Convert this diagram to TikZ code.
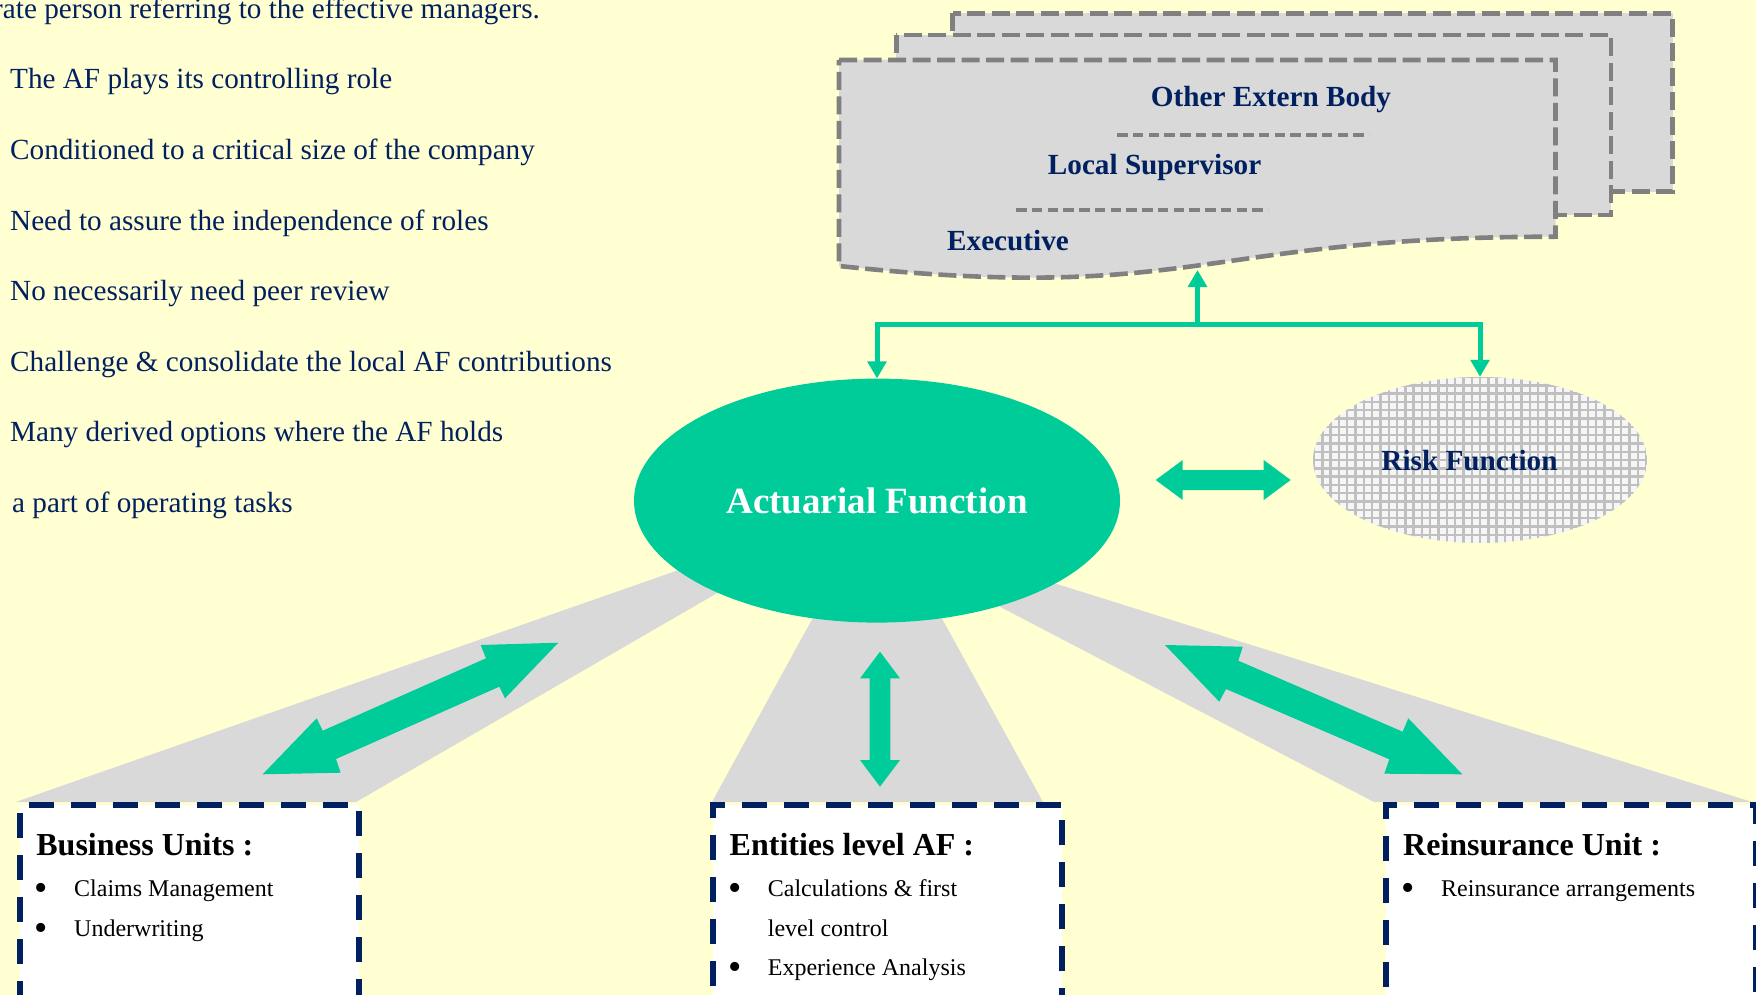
\documentclass[tikz,border=0pt]{standalone}
\usepackage{fontspec}
\setmainfont{Liberation Serif}
\usetikzlibrary{shapes.geometric,arrows.meta}

\definecolor{paper}{RGB}{255,255,209}
\definecolor{afgreen}{RGB}{0,204,153}
\definecolor{navy}{RGB}{0,32,96}
\definecolor{bandgray}{RGB}{217,217,217}
\definecolor{docfill}{RGB}{217,217,217}
\definecolor{docedge}{RGB}{128,128,128}
\definecolor{gridline}{RGB}{192,192,192}
\definecolor{gridback}{RGB}{246,246,246}

\begin{document}
\begin{tikzpicture}[x=1pt,y=-1pt,
  >={Triangle[width=18.5pt,length=17pt]},
  listtext/.style={anchor=base west, inner sep=0pt, text=navy, font=\fontsize{29.2}{35}\selectfont},
  doctext/.style={anchor=base, inner sep=0pt, text=navy, font=\fontsize{29.2}{35}\selectfont\bfseries},
  docsheet/.style={fill=docfill, draw=docedge, line width=4.6pt, dash pattern=on 18pt off 6.5pt},
  separator/.style={draw=docedge, line width=4.2pt, dash pattern=on 10.5pt off 5.25pt},
  band/.style={fill=bandgray},
  blockarrow/.style={fill=afgreen},
  conn/.style={draw=afgreen, line width=5pt},
  unitbox/.style={draw=navy, fill=white, line width=6pt, dash pattern=on 25pt off 17pt, anchor=north west, inner sep=0pt},
  boxhead/.style={anchor=base west, inner sep=0pt, font=\fontsize{32}{38}\selectfont\bfseries},
  boxitem/.style={anchor=base west, inner sep=0pt, font=\fontsize{24}{29}\selectfont},
  boxbullet/.style={anchor=base west, inner sep=0pt, yshift=-4pt, font=\fontsize{38}{40}\selectfont}
]
\useasboundingbox (0,0) rectangle (1756,995);
\clip (0,0) rectangle (1756,995);
\fill[paper] (0,0) rectangle (1756,995);

% bullet list on the left
\node[listtext] (l0) at (-7,19) {rate person referring to the effective managers.};
\node[listtext] (l1) at (10,89) {The AF plays its controlling role};
\node[listtext] (l2) at (10,159.5) {Conditioned to a critical size of the company};
\node[listtext] (l3) at (10,230) {Need to assure the independence of roles};
\node[listtext] (l4) at (10,300.5) {No necessarily need peer review};
\node[listtext] (l5) at (10,371) {Challenge \& consolidate the local AF contributions};
\node[listtext] (l6) at (10,441) {Many derived options where the AF holds};
\node[listtext] (l7) at (12,512) {a part of operating tasks};

% grey beams from the actuarial function down to the units
\fill[band] (877,500.6) -- (15.7,802) -- (356,802) -- cycle;
\fill[band] (877,500.6) -- (712,802) -- (1043,802) -- cycle;
\fill[band] (805,505) -- (1752,802) -- (1374,802) -- cycle;

% central actuarial function
\node[ellipse, fill=afgreen, minimum width=486pt, minimum height=244pt, inner sep=0pt,
      text=white, font=\fontsize{37}{44}\selectfont\bfseries] (af) at (877,500.6) {Actuarial Function};

% risk function with grid fill
\node[ellipse, minimum width=334pt, minimum height=166pt, inner sep=0pt, fill=gridback,
      path picture={\draw[gridline, line width=2.4pt] (path picture bounding box.south west) grid[step=8.3pt] (path picture bounding box.north east);}] (risk) at (1480,460) {};
\node[doctext] (risklabel) at (1469.5,470) {Risk Function};

% units
\node[unitbox, minimum width=339.3pt, minimum height=195.5pt] (bu) at (16.7,801.7) {};
\node[unitbox, minimum width=349pt, minimum height=195.5pt] (el) at (710,801.7) {};
\node[unitbox, minimum width=369.7pt, minimum height=195.5pt] (ru) at (1383.3,801.7) {};

\node[boxhead] (buhead) at (36.2,855) {Business Units :};
\node[boxbullet] (bubulla) at (34.5,896.7) {\textbullet};
\node[boxitem] (buitema) at (74,896.7) {Claims Management};
\node[boxbullet] (bubullb) at (34.5,936.7) {\textbullet};
\node[boxitem] (buitemb) at (74,936.7) {Underwriting};

\node[boxhead] (elhead) at (729.5,855) {Entities level AF :};
\node[boxbullet] (elbulla) at (727.8,896.7) {\textbullet};
\node[boxitem] (elitema) at (767.7,896.7) {Calculations \& first};
\node[boxitem] (elitemb) at (767.7,936.7) {level control};
\node[boxbullet] (elbullc) at (727.8,975) {\textbullet};
\node[boxitem] (elitemc) at (767.7,975) {Experience Analysis};

\node[boxhead] (ruhead) at (1403,855) {Reinsurance Unit :};
\node[boxbullet] (rubulla) at (1401.3,896.7) {\textbullet};
\node[boxitem] (ruitema) at (1441,896.7) {Reinsurance arrangements};

% two-way block arrows
\fill[blockarrow] (1155.7,480) -- (1182.7,460) -- (1182.7,470) -- (1263.7,470) -- (1263.7,460)
  -- (1290.7,480) -- (1263.7,500) -- (1263.7,490) -- (1182.7,490) -- (1182.7,500) -- cycle;
\fill[blockarrow] (880,651.7) -- (900,678.4) -- (890.3,678.4) -- (890.3,760) -- (900,760)
  -- (880,786.7) -- (860,760) -- (869.7,760) -- (869.7,678.4) -- (860,678.4) -- cycle;
\fill[blockarrow] (558.3,642.7) -- (480.7,645) -- (486,658.3) -- (322.7,730.7) -- (316.7,718.3)
  -- (262.7,774.3) -- (340.7,772.7) -- (336,759) -- (499.3,686.7) -- (505,698.3) -- cycle;
\fill[blockarrow] (1165,645) -- (1242.7,646.7) -- (1238.3,660.7) -- (1402.7,731.7) -- (1408.3,718.3)
  -- (1462.3,774.3) -- (1384.3,773.7) -- (1389.3,759.3) -- (1226,689) -- (1219.3,701.7) -- cycle;

% stack of bodies
\filldraw[docsheet] (952.5,13.3) rectangle (1672.5,191.7);
\filldraw[docsheet] (896.4,35) rectangle (1611,215);
\filldraw[docsheet] (839,60) -- (1555.5,60) -- (1555.5,236.7)
  .. controls (1197.25,236.7) and (1197.25,304) .. (839,266) -- cycle;
\draw[separator] (1117,135) -- (1369,135);
\draw[separator] (1016,210) -- (1268,210);
\node[doctext] (otherbody) at (1271,107) {Other Extern Body};
\node[doctext] (localsup) at (1154.6,175) {Local Supervisor};
\node[doctext] (executive) at (1008,251) {Executive};

% reporting lines
\coordinate (hub) at (1197.5,324);
\coordinate (execdock) at (1197.5,270);
\draw[conn,->] (hub) -- (execdock);
\draw[conn,<->] (af.north) |- (hub) -| (risk.north);
\end{tikzpicture}
\end{document}
